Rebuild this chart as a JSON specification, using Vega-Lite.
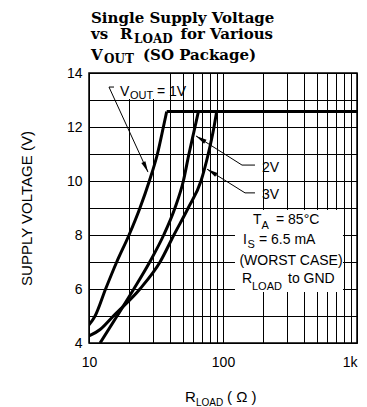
{
  "$schema": "https://vega.github.io/schema/vega-lite/v6.json",
  "width": 268,
  "height": 270,
  "autosize": {"type": "none"},
  "padding": {"left": 89, "top": 73, "right": 10, "bottom": 64},
  "background": "white",
  "config": {"view": {"stroke": "black", "strokeWidth": 1.5}},
  "datasets": {
    "curves": [
      {"s": "1V", "k": 1, "r": 10, "v": 4.67},
      {"s": "1V", "k": 2, "r": 11.1, "v": 5},
      {"s": "1V", "k": 3, "r": 13.3, "v": 6},
      {"s": "1V", "k": 4, "r": 16.1, "v": 7},
      {"s": "1V", "k": 5, "r": 19.9, "v": 8},
      {"s": "1V", "k": 6, "r": 24, "v": 9},
      {"s": "1V", "k": 7, "r": 28.2, "v": 10},
      {"s": "1V", "k": 8, "r": 32.4, "v": 11},
      {"s": "1V", "k": 9, "r": 35.9, "v": 12},
      {"s": "1V", "k": 10, "r": 38, "v": 12.57},
      {"s": "top", "k": 1, "r": 38, "v": 12.57},
      {"s": "top", "k": 2, "r": 1000, "v": 12.57},
      {"s": "2V", "k": 1, "r": 12.1, "v": 4},
      {"s": "2V", "k": 2, "r": 16.2, "v": 5},
      {"s": "2V", "k": 3, "r": 21.6, "v": 6},
      {"s": "2V", "k": 4, "r": 28.4, "v": 7},
      {"s": "2V", "k": 5, "r": 36.1, "v": 8},
      {"s": "2V", "k": 6, "r": 43.8, "v": 9},
      {"s": "2V", "k": 7, "r": 50.6, "v": 10},
      {"s": "2V", "k": 8, "r": 55.7, "v": 11},
      {"s": "2V", "k": 9, "r": 61.8, "v": 12},
      {"s": "2V", "k": 10, "r": 65.5, "v": 12.57},
      {"s": "3V", "k": 1, "r": 10, "v": 4.26},
      {"s": "3V", "k": 2, "r": 12.1, "v": 4.5},
      {"s": "3V", "k": 3, "r": 15.2, "v": 5},
      {"s": "3V", "k": 4, "r": 24, "v": 6},
      {"s": "3V", "k": 5, "r": 33.9, "v": 7},
      {"s": "3V", "k": 6, "r": 43, "v": 8},
      {"s": "3V", "k": 7, "r": 55, "v": 9},
      {"s": "3V", "k": 8, "r": 68.5, "v": 10},
      {"s": "3V", "k": 9, "r": 77.6, "v": 11},
      {"s": "3V", "k": 10, "r": 85.7, "v": 12},
      {"s": "3V", "k": 11, "r": 89.7, "v": 12.57}
    ],
    "boxes": [
      {"r": 15.1, "r2": 36.9, "v": 13.04, "v2": 13.96},
      {"r": 122.9, "r2": 786, "v": 5.889, "v2": 8.926}
    ],
    "leaders": [
      {"id": "a", "k": 1, "r": 15.37, "v": 13.48},
      {"id": "a", "k": 2, "r": 14.1, "v": 13.48},
      {"id": "a", "k": 3, "r": 27.56, "v": 10.33},
      {"id": "b", "k": 1, "r": 173.3, "v": 10.59},
      {"id": "b", "k": 2, "r": 138.6, "v": 10.59},
      {"id": "b", "k": 3, "r": 62.87, "v": 11.67},
      {"id": "c", "k": 1, "r": 173.3, "v": 9.56},
      {"id": "c", "k": 2, "r": 146, "v": 9.56},
      {"id": "c", "k": 3, "r": 75.96, "v": 10.44}
    ],
    "arrow1": [{"r": 27.56, "v": 10.33}],
    "arrow2": [{"r": 62.87, "v": 11.67}, {"r": 75.96, "v": 10.44}],
    "titleMain": [
      {"t": "Single Supply Voltage", "r": 10.35, "v": 15.863},
      {"t": "vs", "r": 10.35, "v": 15.241},
      {"t": "R", "r": 17.03, "v": 15.241},
      {"t": "V", "r": 10.35, "v": 14.5},
      {"t": "(SO Package)", "r": 25.29, "v": 14.5}
    ],
    "titleRight": [{"t": "for Various", "r": 236.1, "v": 15.241}],
    "titleSub": [
      {"t": "LOAD", "r": 21.67, "v": 15.1},
      {"t": "OUT", "r": 12.94, "v": 14.359}
    ],
    "annMain": [
      {"t": "V", "r": 17.03, "v": 13.148},
      {"t": "= 1V", "r": 32.17, "v": 13.148},
      {"t": "2V", "r": 195.4, "v": 10.333},
      {"t": "3V", "r": 195.4, "v": 9.333},
      {"t": "T", "r": 167.5, "v": 8.4},
      {"t": "=  85°C", "r": 248.6, "v": 8.4},
      {"t": "I", "r": 141.0, "v": 7.68},
      {"t": "=  6.5  mA", "r": 185.7, "v": 7.68},
      {"t": "R", "r": 138.6, "v": 6.222},
      {"t": "to GND", "r": 305.6, "v": 6.222}
    ],
    "annCenter": [{"t": "(WORST CASE)", "r": 321.7, "v": 6.889}],
    "annSub": [
      {"t": "OUT", "r": 20.23, "v": 13.037},
      {"t": "A", "r": 193.8, "v": 8.24},
      {"t": "S", "r": 152.3, "v": 7.51},
      {"t": "LOAD", "r": 164.6, "v": 5.963}
    ],
    "xTitleMain": [
      {"t": "R", "r": 52.05, "v": 1.815},
      {"t": "( Ω )", "r": 107.1, "v": 1.815}
    ],
    "xTitleSub": [{"t": "LOAD", "r": 62.87, "v": 1.667}]
  },
  "encoding": {
    "x": {"field": "r", "type": "quantitative", "scale": {"type": "log", "domain": [10, 1000]},
      "axis": {
        "values": [10, 20, 30, 40, 50, 60, 70, 80, 90, 100, 200, 300, 400, 500, 600, 700, 800, 900, 1000],
        "grid": true, "gridColor": "black", "gridOpacity": 1, "gridWidth": 1,
        "ticks": false, "domain": false,
        "labelExpr": "datum.value == 10 ? '10' : datum.value == 100 ? '100' : datum.value == 1000 ? '1k' : ''",
        "labelAlign": {"condition": {"test": "datum.value == 1000", "value": "right"}, "value": "center"},
        "labelFont": "Liberation Sans", "labelFontSize": 14, "labelColor": "black",
        "labelPadding": 12, "labelOverlap": false, "labelFlush": false, "labelBound": false,
        "title": null
      }},
    "y": {"field": "v", "type": "quantitative", "scale": {"domain": [4, 14], "nice": false, "zero": false},
      "axis": {
        "values": [4, 5, 6, 7, 8, 9, 10, 11, 12, 13, 14],
        "grid": true, "gridColor": "black", "gridOpacity": 1, "gridWidth": 1,
        "ticks": false, "domain": false,
        "labelExpr": "datum.value % 2 == 0 ? datum.label : ''",
        "labelFont": "Liberation Sans", "labelFontSize": 14, "labelColor": "black",
        "labelPadding": 7, "labelOverlap": false, "labelFlush": false, "labelBound": false,
        "title": "SUPPLY VOLTAGE (V)", "titleFont": "Liberation Sans", "titleFontSize": 15,
        "titleFontWeight": "normal", "titleColor": "black", "titlePadding": 32
      }}
  },
  "layer": [
    {
      "data": {"name": "boxes"},
      "mark": {"type": "rect", "fill": "white", "strokeWidth": 0},
      "encoding": {"x2": {"field": "r2"}, "y2": {"field": "v2"}}
    },
    {
      "data": {"name": "curves"},
      "mark": {"type": "line", "color": "black", "strokeWidth": 3, "strokeJoin": "round", "interpolate": "monotone", "clip": true},
      "encoding": {"detail": {"field": "s"}, "order": {"field": "k"}}
    },
    {
      "data": {"name": "leaders"},
      "mark": {"type": "line", "color": "black", "strokeWidth": 1},
      "encoding": {"detail": {"field": "id"}, "order": {"field": "k"}}
    },
    {
      "data": {"name": "arrow1"},
      "mark": {"type": "point", "shape": "M0,0L0.45,2.2L-0.45,2.2Z", "filled": true, "color": "black", "size": 100, "angle": 155, "opacity": 1},
      "encoding": {}
    },
    {
      "data": {"name": "arrow2"},
      "mark": {"type": "point", "shape": "M0,0L0.45,2.2L-0.45,2.2Z", "filled": true, "color": "black", "size": 100, "angle": 302, "opacity": 1},
      "encoding": {}
    },
    {
      "data": {"name": "titleMain"},
      "mark": {"type": "text", "font": "DejaVu Serif", "fontWeight": "bold", "fontSize": 15, "align": "left", "baseline": "alphabetic", "color": "black"},
      "encoding": {"text": {"field": "t"}}
    },
    {
      "data": {"name": "titleRight"},
      "mark": {"type": "text", "font": "DejaVu Serif", "fontWeight": "bold", "fontSize": 15, "align": "right", "baseline": "alphabetic", "color": "black"},
      "encoding": {"text": {"field": "t"}}
    },
    {
      "data": {"name": "titleSub"},
      "mark": {"type": "text", "font": "DejaVu Serif", "fontWeight": "bold", "fontSize": 12, "align": "left", "baseline": "alphabetic", "color": "black"},
      "encoding": {"text": {"field": "t"}}
    },
    {
      "data": {"name": "annMain"},
      "mark": {"type": "text", "font": "Liberation Sans", "fontSize": 14, "align": "left", "baseline": "alphabetic", "color": "black"},
      "encoding": {"text": {"field": "t"}}
    },
    {
      "data": {"name": "annCenter"},
      "mark": {"type": "text", "font": "Liberation Sans", "fontSize": 14, "align": "center", "baseline": "alphabetic", "color": "black"},
      "encoding": {"text": {"field": "t"}}
    },
    {
      "data": {"name": "annSub"},
      "mark": {"type": "text", "font": "Liberation Sans", "fontSize": 11, "align": "left", "baseline": "alphabetic", "color": "black"},
      "encoding": {"text": {"field": "t"}}
    },
    {
      "data": {"name": "xTitleMain"},
      "mark": {"type": "text", "font": "Liberation Sans", "fontSize": 15, "align": "left", "baseline": "alphabetic", "color": "black"},
      "encoding": {"text": {"field": "t"}}
    },
    {
      "data": {"name": "xTitleSub"},
      "mark": {"type": "text", "font": "Liberation Sans", "fontSize": 10, "align": "left", "baseline": "alphabetic", "color": "black"},
      "encoding": {"text": {"field": "t"}}
    }
  ]
}
